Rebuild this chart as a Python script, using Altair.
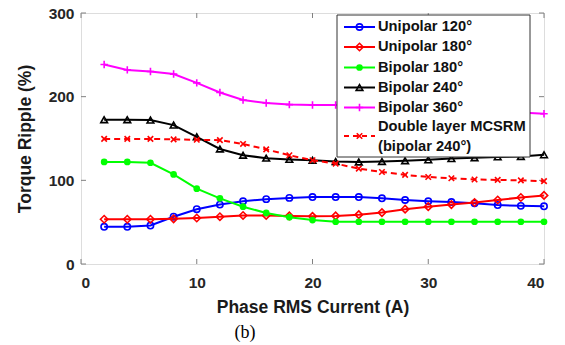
import altair as alt
import pandas as pd

# ---- data ----
currents = [2, 4, 6, 8, 10, 12, 14, 16, 18, 20, 22, 24, 26, 28, 30, 32, 34, 36, 38, 40]
uni120 = [44.5, 44.5, 46, 56.5, 65.5, 71, 75, 77.5, 79, 80, 80, 80, 78.5, 76.5, 75, 74, 72.5, 70.5, 69.5, 69]
uni180 = [53.5, 53.5, 53.5, 54, 55, 56.5, 58, 58, 57.5, 57, 57.5, 59, 61.5, 65.5, 68.5, 71, 73.5, 76.5, 79.5, 82]
bi180 = [122, 122, 121, 107, 90, 78.5, 68.5, 61, 56, 52.5, 50.5, 50.5, 50.5, 50.5, 50.5, 50.5, 50.5, 50.5, 50.5, 50.5]
bi240 = [172.5, 172.5, 172, 166, 152, 137.5, 130, 126.5, 125, 124, 122.5, 122, 122.5, 123.5, 124.5, 126, 127, 128, 128.5, 130.5]
bi360 = [238.5, 232, 230, 227, 216.5, 205, 196, 192.5, 190.5, 190, 190, 189, 188, 187, 186, 185, 184, 183, 181, 179.5]
double = [149.5, 149.5, 149.5, 149, 148.5, 148, 143.5, 137, 130, 124, 120, 114, 110, 106.5, 104, 102.5, 101, 100.5, 100, 99]

series_names = ["Unipolar 120°", "Unipolar 180°", "Bipolar 180°", "Bipolar 240°", "Bipolar 360°",
                "Double layer MCSRM\n(bipolar 240°)"]
series_values = [uni120, uni180, bi180, bi240, bi360, double]

x_ticks = [0, 10, 20, 30, 40]
y_ticks = [0, 100, 200, 300]

PLUS = "M-1,0L1,0M0,-1L0,1"
XMARK = "M-1,-1L1,1M-1,1L1,-1"
# (color, shape, filled, size, dash)
styles = [
    ("#0000FF", "circle", False, 40, None),
    ("#FF0000", "diamond", False, 55, None),
    ("#00FF00", "circle", True, 45, None),
    ("#000000", "triangle-up", False, 45, None),
    ("#FF00FF", PLUS, False, 55, None),
    ("#FF0000", XMARK, False, 30, [6, 4]),
]

W, H = 463, 251
FONT = "Liberation Sans"

x_enc = alt.X("current:Q", scale=alt.Scale(domain=[0, 40], nice=False),
              axis=alt.Axis(values=x_ticks, tickSize=0, domain=False, grid=False,
                            labelFont=FONT, labelFontWeight="bold", labelFontSize=15.5,
                            labelColor="#262626", labelPadding=11,
                            title="Phase RMS Current (A)", titleFont=FONT, titleFontSize=17.5,
                            titleFontWeight="bold", titleColor="#1a1a1a", titlePadding=8))
y_enc = alt.Y("value:Q", scale=alt.Scale(domain=[0, 300], nice=False),
              axis=alt.Axis(values=y_ticks, tickSize=0, domain=False, grid=False,
                            labelFont=FONT, labelFontWeight="bold", labelFontSize=15.5,
                            labelColor="#262626", labelPadding=7,
                            title="Torque Ripple (%)", titleFont=FONT, titleFontSize=17.5,
                            titleFontWeight="bold", titleColor="#1a1a1a", titlePadding=14))

layers = []

# inward ticks on all four sides
xt = pd.DataFrame({"current": x_ticks})
yt = pd.DataFrame({"value": y_ticks})
tick_col = "#808080"
layers.append(alt.Chart(xt).mark_rule(color=tick_col).encode(x=x_enc, y=alt.value(H), y2=alt.value(H - 5)))
layers.append(alt.Chart(xt).mark_rule(color=tick_col).encode(x=x_enc, y=alt.value(0), y2=alt.value(5)))
layers.append(alt.Chart(yt).mark_rule(color=tick_col).encode(y=y_enc, x=alt.value(0), x2=alt.value(5)))
layers.append(alt.Chart(yt).mark_rule(color=tick_col).encode(y=y_enc, x=alt.value(W), x2=alt.value(W - 5)))

for name, vals, (col, shape, filled, size, dash) in zip(series_names, series_values, styles):
    df = pd.DataFrame({"current": currents, "value": vals})
    line_kw = dict(color=col, strokeWidth=2)
    if dash:
        line_kw["strokeDash"] = dash
    layers.append(alt.Chart(df).mark_line(**line_kw).encode(x=x_enc, y=y_enc))
    layers.append(alt.Chart(df).mark_point(shape=shape, filled=filled, color=col, size=size,
                                           strokeWidth=1.6, opacity=1).encode(x=x_enc, y=y_enc))

# legend box
one = pd.DataFrame({"a": [0]})
layers.append(alt.Chart(one).mark_rect(fill="white", stroke="#333333", strokeWidth=1).encode(
    x=alt.value(256), x2=alt.value(449), y=alt.value(2), y2=alt.value(144)))
row_y = [14, 34, 54.5, 74.5, 94.5, 123]
text_y = [14, 34, 54.5, 74.5, 94.5, 114.3]
for name, (col, shape, filled, size, dash), ry, ty in zip(series_names, styles, row_y, text_y):
    rk = dict(color=col, strokeWidth=2)
    if dash:
        rk["strokeDash"] = [5, 4]
    layers.append(alt.Chart(one).mark_rule(**rk).encode(
        x=alt.value(263), x2=alt.value(294), y=alt.value(ry)))
    layers.append(alt.Chart(one).mark_point(shape=shape, filled=filled, color=col, size=size,
                                            strokeWidth=1.6, opacity=1).encode(
        x=alt.value(278.5), y=alt.value(ry)))
    layers.append(alt.Chart(one).mark_text(text=name, align="left", baseline="middle", font=FONT,
                                           fontWeight="bold", fontSize=14.7, color="#111111",
                                           lineBreak="\n", lineHeight=19.5).encode(
        x=alt.value(297), y=alt.value(ty)))

# caption
layers.append(alt.Chart(one).mark_text(text="(b)", align="center", baseline="middle",
                                       font="Liberation Serif", fontSize=18, color="#000000").encode(
    x=alt.value(164), y=alt.value(320)))

chart = alt.layer(*layers).properties(
    width=W, height=H,
    autosize=alt.AutoSizeParams(type="none"),
    padding={"left": 81, "top": 13, "right": 21, "bottom": 81},
).configure_view(stroke="#808080", strokeWidth=1).configure(background="white")

chart.save("out.html", embed_options={"renderer": "svg", "actions": False})
